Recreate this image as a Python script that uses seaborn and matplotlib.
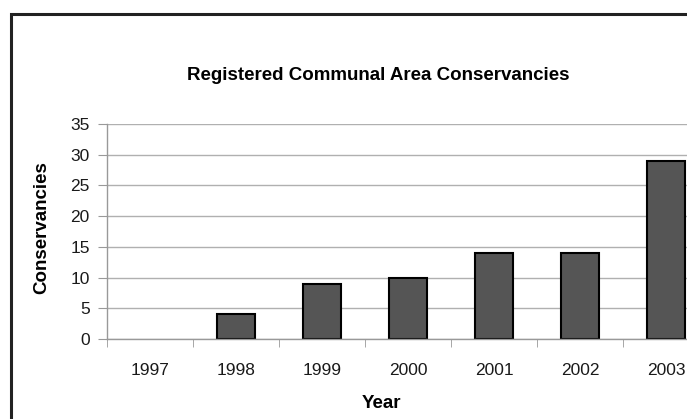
import numpy as np
import pandas as pd
import matplotlib
matplotlib.use("Agg")
import matplotlib.pyplot as plt
import seaborn as sns
from matplotlib.patches import Rectangle

years = ["1997", "1998", "1999", "2000", "2001", "2002", "2003"]
conservancies = [0, 4, 9, 10, 14, 14, 29]
yticks = [0, 5, 10, 15, 20, 25, 30, 35]

sns.set_style("white")
plt.rcParams["font.family"] = ["Liberation Sans", "DejaVu Sans"]

df = pd.DataFrame({"Year": years, "Conservancies": conservancies})

W, H = 687, 419
fig = plt.figure(figsize=(W / 100, H / 100), dpi=100)

# axes run past the right edge, as in the cropped scan
left, right, top, bottom = 107, 709, 124, 339
ax = fig.add_axes([left / W, 1 - bottom / H, (right - left) / W, (bottom - top) / H])

sns.barplot(data=df, x="Year", y="Conservancies", order=years, color="#555555",
            width=0.44, edgecolor="black", linewidth=1.5, saturation=1, ax=ax)
# empty bar (1997) shows no outline
for p in ax.patches:
    if p.get_height() == 0:
        p.set_linewidth(0)

ax.set_ylim(0, 35)
ax.set_xlim(-0.5, len(years) - 0.5)
ax.set_yticks(yticks)
ax.yaxis.grid(True, color="#b0b0b0", linewidth=1)
ax.set_axisbelow(True)
for side in ["top", "right"]:
    ax.spines[side].set_visible(False)
for side in ["left", "bottom"]:
    ax.spines[side].set_color("#999999")
    ax.spines[side].set_linewidth(1)

ax.set_xticks(np.arange(len(years)) - 0.5, minor=True)
ax.tick_params(axis="x", which="major", length=0, pad=17, labelsize=12.5, labelcolor="#1a1a1a")
ax.tick_params(axis="x", which="minor", length=5.5, color="#999999", direction="out", bottom=True)
ax.tick_params(axis="y", length=6.5, color="#999999", direction="out", left=True, pad=6,
               labelsize=12.5, labelcolor="#1a1a1a")
ax.set_xlabel("")
ax.set_ylabel("")

fig.text(378 / W, 1 - 76 / H, "Registered Communal Area Conservancies",
         ha="center", va="center", fontsize=13.5, fontweight="bold", color="black")
fig.text(42 / W, 1 - 228 / H, "Conservancies", ha="center", va="center",
         rotation=90, fontsize=13.5, fontweight="bold", color="black")
fig.text(381 / W, 1 - 403 / H, "Year", ha="center", va="center",
         fontsize=13.5, fontweight="bold", color="black")

# outer frame of the scanned figure (only left and top visible)
fig.patches.append(Rectangle((10.5 / W, -0.2), 1.2, 1 - 14.5 / H + 0.2,
                             transform=fig.transFigure, fill=False,
                             edgecolor="#222222", linewidth=2.2))

fig.savefig("out.png", dpi=100)
